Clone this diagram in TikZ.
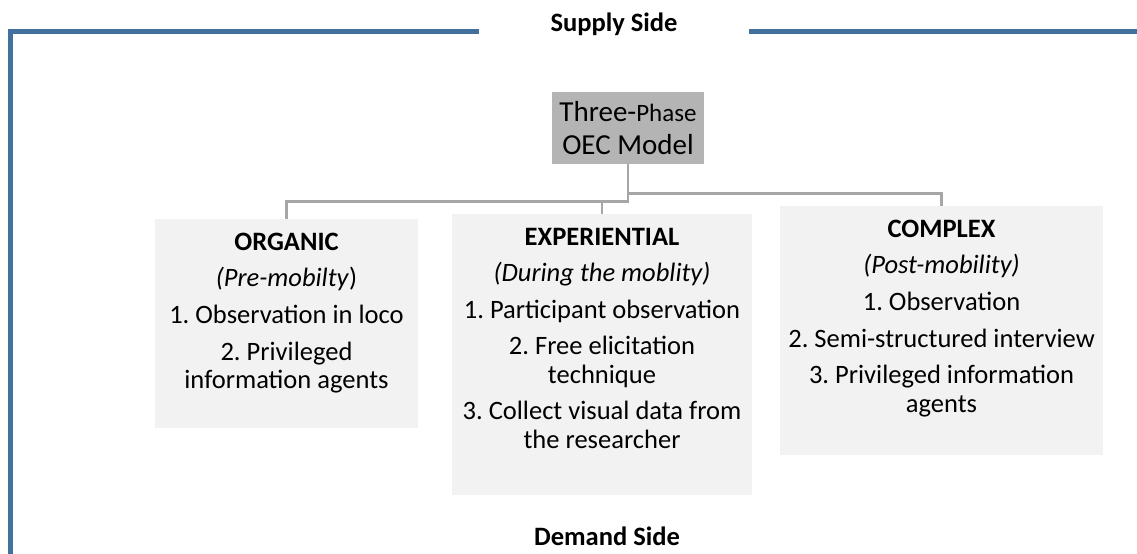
\documentclass[tikz,border=0pt]{standalone}
\usepackage{fontspec}
\setmainfont{Carlito}
\usepackage{tikz}
\usetikzlibrary{positioning}
\frenchspacing

\definecolor{framebl}{RGB}{65,113,156}
\definecolor{panelgr}{RGB}{242,242,242}
\definecolor{headgr}{RGB}{180,180,180}
\definecolor{linkgr}{RGB}{166,166,166}

\tikzset{
  panel/.style={fill=panelgr, inner sep=0pt},
  paneltext/.style={align=center, inner sep=0pt, font=\fontsize{19.9}{21.4}\selectfont},
  link/.style={draw=linkgr, line width=1.9pt},
  sidelabel/.style={inner sep=0pt, font=\fontsize{19.9}{21.4}\selectfont\bfseries},
}

\begin{document}
\begin{tikzpicture}[x=0.75pt,y=0.75pt,yscale=-1,xscale=1]
\useasboundingbox (0,0) rectangle (1137,553);

%Frame lines
\draw [draw=framebl, line width=3.4pt] (479,31.5) -- (10.5,31.5) -- (10.5,556) ;
\draw [draw=framebl, line width=3.4pt] (749,31.5) -- (1140,31.5) ;

% Text Node
\node [sidelabel] (supply) at (614,24) {Supply Side};
% Text Node
\node [sidelabel] (demand) at (607,536) {Demand Side};

%Head box
\node [fill=headgr, minimum width=114pt, minimum height=54pt, align=center, inner sep=0pt,
       font=\fontsize{21.75}{24.75}\selectfont] (oec) at (628,128)
      {Three-{\fontsize{18.75}{24.75}\selectfont Phase}\\OEC Model};

%Panels
\node [panel, minimum width=197.25pt, minimum height=156.75pt] (org) at (286.5,323.5) {};
\node [panel, minimum width=225pt, minimum height=210.75pt] (exp) at (602,354.5) {};
\node [panel, minimum width=242.25pt, minimum height=186.75pt] (cpx) at (941.5,330.5) {};

% Panel texts
\node [paneltext, below=10.5pt of org.north] (orgtxt)
      {\textbf{ORGANIC}\\[6pt]
       \textit{(Pre-mobilty})\\[6pt]
       1. Observation in loco\\[6pt]
       2. Privileged\\information agents};
\node [paneltext, below=10.5pt of exp.north] (exptxt)
      {\textbf{EXPERIENTIAL}\\[6pt]
       \textit{(During the moblity)}\\[6pt]
       1. Participant observation\\[6pt]
       2. Free elicitation\\technique\\[6pt]
       3. Collect visual data from\\the researcher};
\node [paneltext, below=10.5pt of cpx.north] (cpxtxt)
      {\textbf{COMPLEX}\\[6pt]
       \textit{(Post-mobility)}\\[6pt]
       1. Observation\\[6pt]
       2. Semi-structured interview\\[6pt]
       3. Privileged information\\agents};

%Connectors
\draw [link] (oec.south) -- ++(0,37) -| (org.north) ;
\draw [link] (oec.south) -- ++(0,37) -| (exp.north) ;
\draw [link] (oec.south) -- ++(0,29) -| (cpx.north) ;

\end{tikzpicture}
\end{document}
